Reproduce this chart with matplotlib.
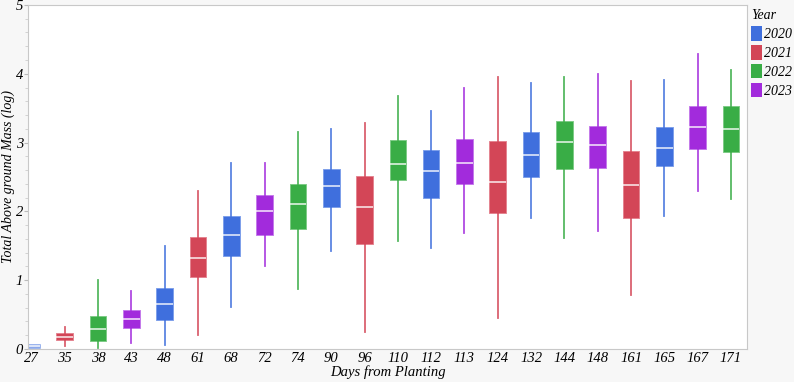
import numpy as np
import matplotlib.pyplot as plt
from matplotlib.patches import Patch

days = ['27', '35', '38', '43', '48', '61', '68', '72', '74', '90', '96',
        '110', '112', '113', '124', '132', '144', '148', '161', '165', '167', '171']
year = [2020, 2021, 2022, 2023, 2020, 2021, 2020, 2023, 2022, 2020, 2021,
        2022, 2020, 2023, 2021, 2020, 2022, 2023, 2021, 2020, 2023, 2022]

whislo = [0.02, 0.05, 0.01, 0.08, 0.06, 0.20, 0.61, 1.20, 0.87, 1.43, 0.24,
          1.57, 1.47, 1.69, 0.45, 1.90, 1.62, 1.72, 0.78, 1.94, 2.30, 2.18]
q1 = [0.02, 0.13, 0.12, 0.31, 0.42, 1.05, 1.35, 1.66, 1.74, 2.07, 1.53,
      2.45, 2.20, 2.40, 1.98, 2.50, 2.61, 2.63, 1.91, 2.66, 2.91, 2.87]
med = [0.045, 0.17, 0.29, 0.43, 0.66, 1.32, 1.66, 2.00, 2.11, 2.37, 2.06,
       2.69, 2.59, 2.71, 2.43, 2.82, 3.01, 2.97, 2.38, 2.92, 3.22, 3.20]
q3 = [0.07, 0.23, 0.48, 0.56, 0.89, 1.63, 1.94, 2.24, 2.40, 2.61, 2.51,
      3.04, 2.89, 3.05, 3.02, 3.15, 3.31, 3.24, 2.88, 3.23, 3.53, 3.53]
whishi = [0.07, 0.315, 1.00, 0.84, 1.49, 2.30, 2.70, 2.70, 3.15, 3.20, 3.29,
          3.68, 3.46, 3.79, 3.95, 3.87, 3.95, 3.99, 3.89, 3.91, 4.29, 4.06]

colors = {2020: '#3F6FDD', 2021: '#D34657', 2022: '#39AD46', 2023: '#A22BDC'}
edges = {2020: '#7FA0EA', 2021: '#E48591', 2022: '#7FCB87', 2023: '#C47BEA'}

plt.rcParams['font.family'] = ['Liberation Serif', 'DejaVu Serif']

fig = plt.figure(figsize=(7.94, 3.82), dpi=100, facecolor='#F7F7F7')
ax = fig.add_axes([0.0353, 0.0864, 0.9055, 0.9006])
ax.set_facecolor('white')

stats = []
for i in range(len(days)):
    stats.append(dict(label=days[i], whislo=whislo[i], q1=q1[i], med=med[i],
                      q3=q3[i], whishi=whishi[i], fliers=[]))

pos = np.arange(len(days))
bp = ax.bxp(stats, positions=pos, widths=0.5, patch_artist=True, showcaps=False,
            medianprops=dict(color='white', lw=1.1, alpha=0.9),
            boxprops=dict(lw=0.7))
for i in range(len(days)):
    c = colors[year[i]]
    bp['boxes'][i].set_facecolor(c)
    bp['boxes'][i].set_edgecolor(edges[year[i]])
    bp['whiskers'][2 * i].set(color=c, lw=1.3, alpha=0.85)
    bp['whiskers'][2 * i + 1].set(color=c, lw=1.3, alpha=0.85)
bp['boxes'][0].set_alpha(0.6)

ax.set_xlim(-0.1, 21.48)
ax.set_ylim(0, 5)
ax.set_yticks([0, 1, 2, 3, 4, 5])
ax.set_yticks(np.arange(0, 5, 0.2), minor=True)
ax.set_xticks(pos)
ax.set_xticklabels(days, fontstyle='italic', fontsize=10.5)
for lab in ax.get_yticklabels():
    lab.set_fontstyle('italic')
    lab.set_fontsize(10.5)
ax.tick_params(axis='x', length=0, pad=2)
ax.tick_params(axis='y', which='major', length=3, color='#BBBBBB', pad=0.5)
ax.tick_params(axis='y', which='minor', length=2, color='#CCCCCC')
for s in ax.spines.values():
    s.set_color('#C8C8C8')

ax.set_xlabel('Days from Planting', fontstyle='italic', fontsize=10.5, labelpad=0)
ax.set_ylabel('Total Above ground Mass (log)', fontstyle='italic', fontsize=10, labelpad=0)
ax.yaxis.set_label_coords(-0.0175, 0.5)

handles = [Patch(facecolor=colors[y], edgecolor='none', label=str(y)) for y in colors]
leg = ax.legend(handles=handles, title='Year', loc='upper left', bbox_to_anchor=(1.0, 1.0),
                frameon=False, prop=dict(style='italic', size=10),
                handlelength=0.8, handleheight=1.2, handletextpad=0.1,
                labelspacing=0.3, borderaxespad=0.1, borderpad=0.2)
leg.get_title().set_fontstyle('italic')
leg.get_title().set_fontsize(10)
leg._legend_box.align = 'left'

fig.savefig('out.png', dpi=100, facecolor=fig.get_facecolor())
